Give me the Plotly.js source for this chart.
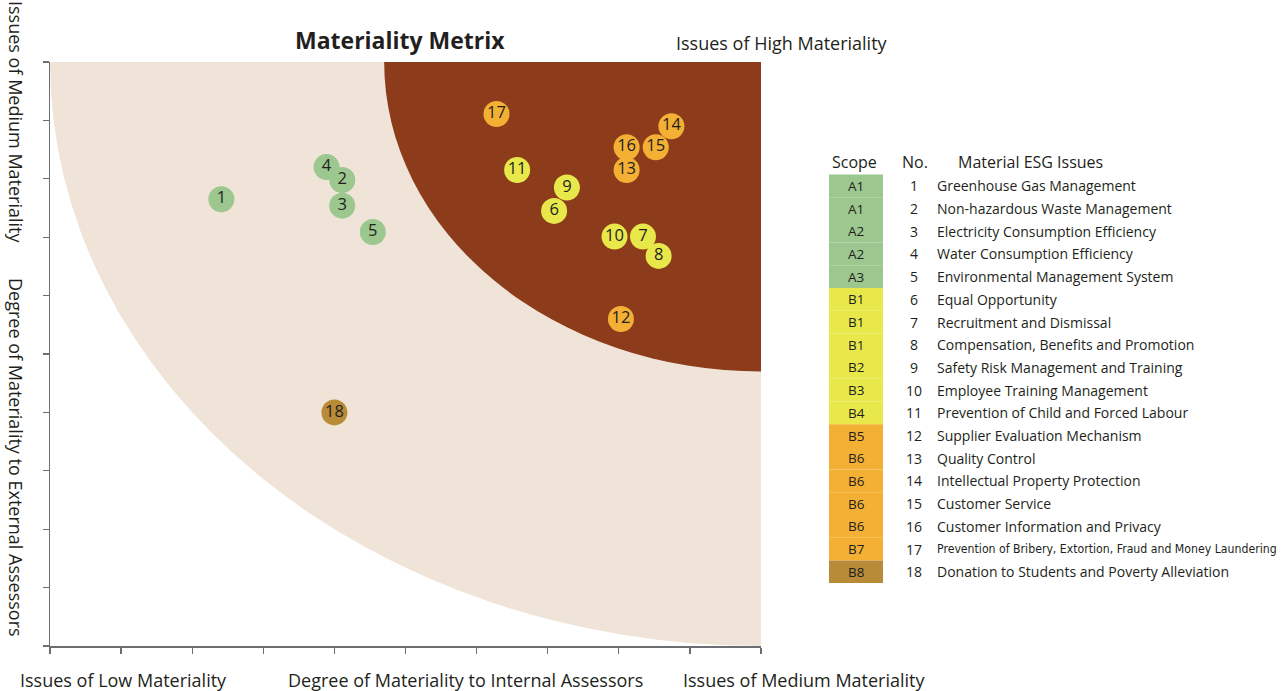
<!DOCTYPE html>
<html>
<head>
<meta charset="utf-8">
<script src="https://cdn.plot.ly/plotly-3.0.1.min.js"></script>
<style>html,body{margin:0;padding:0;background:#fff;}#chart{width:1287px;height:691px;}</style>
</head>
<body>
<div id="chart"></div>
<script>
// ---- Data ----
const issueNo = [1,2,3,4,5,6,7,8,9,10,11,12,13,14,15,16,17,18];
const internal = [2.41,4.11,4.11,3.89,4.54,7.09,8.34,8.56,7.27,7.94,6.57,8.03,8.11,8.74,8.52,8.11,6.28,4.00];
const external = [7.65,7.98,7.54,8.20,7.09,7.45,7.01,6.68,7.85,7.01,8.15,5.60,8.15,8.90,8.54,8.54,9.11,4.00];
const scopes = ["A1","A1","A2","A2","A3","B1","B1","B1","B2","B3","B4","B5","B6","B6","B6","B6","B7","B8"];
const issues = ["Greenhouse Gas Management","Non-hazardous Waste Management","Electricity Consumption Efficiency",
  "Water Consumption Efficiency","Environmental Management System","Equal Opportunity","Recruitment and Dismissal",
  "Compensation, Benefits and Promotion","Safety Risk Management and Training","Employee Training Management",
  "Prevention of Child and Forced Labour","Supplier Evaluation Mechanism","Quality Control",
  "Intellectual Property Protection","Customer Service","Customer Information and Privacy",
  "Prevention of Bribery, Extortion, Fraud and Money Laundering","Donation to Students and Poverty Alleviation"];
const groupColors = {A:"#9cc78f", B1:"#e8e84b", B5:"#f4b035", B8:"#b88b39"};
const mediumRadius = 10;   // outer band radius (data units from top-right corner)
const highRadius = 5.3;    // high materiality zone radius

function colorFor(s){
  if (s[0]==="A") return groupColors.A;
  const n = parseInt(s.slice(1));
  if (n<=4) return groupColors.B1;
  if (n<=7) return groupColors.B5;
  return groupColors.B8;
}
const ptColors = scopes.map(colorFor);

// draw order (4 below 2, etc.)
const order = [0,3,1,2,4,5,8,9,6,7,10,11,12,15,14,13,16,17];

const FONT = "Open Sans, sans-serif";
const TXT = "#231f20";

const trace = {
  type:"scatter", mode:"markers+text",
  x: order.map(i=>internal[i]), y: order.map(i=>external[i]),
  text: order.map(i=>String(issueNo[i])),
  textposition:"middle center",
  textfont:{family:FONT, size:16.5, color:TXT},
  marker:{size:26, color: order.map(i=>ptColors[i]), line:{width:0}, opacity:1},
  cliponaxis:false, hoverinfo:"none", showlegend:false
};

// pixel->paper helpers for the table
const L=50, R=761, T=62, B=646;
const px = v => (v-L)/(R-L);
const py = v => (B-v)/(B-T);

const shapes = [
  {type:"circle", xref:"x", yref:"y", x0:10-mediumRadius, x1:10+mediumRadius, y0:10-mediumRadius, y1:10+mediumRadius,
   fillcolor:"#f0e4d9", line:{width:0}, layer:"below"},
  {type:"circle", xref:"x", yref:"y", x0:10-highRadius, x1:10+highRadius, y0:10-highRadius, y1:10+highRadius,
   fillcolor:"#8c3c1b", line:{width:0}, layer:"below"}
];
const annotations = [];
const rowTop = 174.5, rowH = 22.7;
scopes.forEach((s,i)=>{
  const y0 = rowTop + i*rowH, y1 = y0 + rowH, yc = (y0+y1)/2;
  shapes.push({type:"rect", xref:"paper", yref:"paper", x0:px(829), x1:px(883), y0:py(y1), y1:py(y0),
    fillcolor:ptColors[i], line:{width:0}});
  annotations.push({xref:"paper", yref:"paper", x:px(856), y:py(yc), text:s, showarrow:false,
    xanchor:"center", yanchor:"middle", font:{family:FONT, size:13.5, color:TXT}});
  annotations.push({xref:"paper", yref:"paper", x:px(913.5), y:py(yc), text:String(issueNo[i]), showarrow:false,
    xanchor:"center", yanchor:"middle", font:{family:FONT, size:14, color:TXT}});
  annotations.push({xref:"paper", yref:"paper", x:px(935), y:py(yc), text:issues[i], showarrow:false,
    xanchor:"left", yanchor:"middle", font:{family: i===16 ? "DejaVu Sans Condensed, Liberation Sans Narrow, sans-serif" : FONT,
    size: i===16 ? 12.2 : 14, color:TXT}});
});
// headers
[["Scope",854],["No.",915],["Material ESG Issues",1030]].forEach(h=>{
  annotations.push({xref:"paper", yref:"paper", x:px(h[1]), y:py(162), text:h[0], showarrow:false,
    xanchor:"center", yanchor:"middle", font:{family:FONT, size:16, color:TXT}});
});
// titles / region labels
annotations.push({xref:"paper", yref:"paper", x:px(400), y:py(40), text:"<b>Materiality Metrix</b>", showarrow:false,
  xanchor:"center", yanchor:"middle", font:{family:FONT, size:23, color:TXT}});
annotations.push({xref:"paper", yref:"paper", x:px(782), y:py(43), text:"Issues of High Materiality", showarrow:false,
  xanchor:"center", yanchor:"middle", font:{family:FONT, size:18, color:TXT}});
[["Issues of Low Materiality",123],["Degree of Materiality to Internal Assessors",465],["Issues of Medium Materiality",804]].forEach(b=>{
  annotations.push({xref:"paper", yref:"paper", x:px(b[1]), y:py(680), text:b[0], showarrow:false,
    xanchor:"center", yanchor:"middle", font:{family:FONT, size:18, color:TXT}});
});
[["Issues of Medium Materiality",122],["Degree of Materiality to External Assessors",457]].forEach(b=>{
  annotations.push({xref:"paper", yref:"paper", x:px(16), y:py(b[1]), text:b[0], showarrow:false, textangle:90,
    xanchor:"center", yanchor:"middle", font:{family:FONT, size:18, color:TXT}});
});

const axisCommon = {range:[0,10], dtick:1, tick0:0, showgrid:false, zeroline:false, showline:true,
  linecolor:"#6d6e71", linewidth:1.5, ticks:"outside", ticklen:6, tickwidth:1.3, tickcolor:"#6d6e71",
  showticklabels:false, fixedrange:true};

const layout = {
  width:1287, height:691,
  margin:{l:L, r:1287-R, t:T, b:691-B},
  paper_bgcolor:"#ffffff", plot_bgcolor:"#ffffff",
  xaxis:Object.assign({}, axisCommon),
  yaxis:Object.assign({}, axisCommon),
  shapes:shapes, annotations:annotations, showlegend:false
};

Plotly.newPlot("chart",[trace],layout,{displayModeBar:false, staticPlot:true});
</script>
</body>
</html>
